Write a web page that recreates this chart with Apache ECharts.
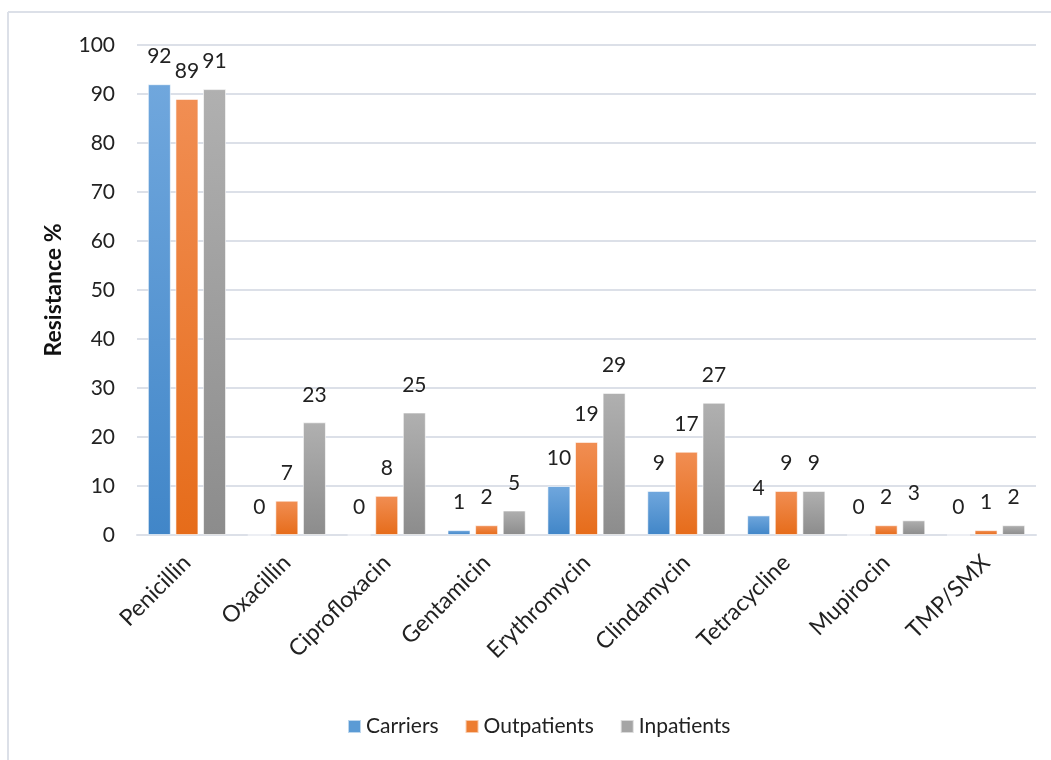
<!DOCTYPE html>
<html>
<head>
<meta charset="utf-8">
<script src="https://cdn.jsdelivr.net/npm/echarts@6/dist/echarts.min.js"></script>
<style>
  html, body { margin: 0; padding: 0; background: #ffffff; }
  #chart { width: 1051px; height: 760px; }
</style>
</head>
<body>
<div id="chart"></div>
<script>
// Antibiotic resistance (%) by patient group
const antibiotics = ['Penicillin', 'Oxacillin', 'Ciprofloxacin', 'Gentamicin', 'Erythromycin',
                     'Clindamycin', 'Tetracycline', 'Mupirocin', 'TMP/SMX'];
const carriers    = [92, 0, 0, 1, 10, 9, 4, 0, 0];
const outpatients = [89, 7, 8, 2, 19, 17, 9, 2, 1];
const inpatients  = [91, 23, 25, 5, 29, 27, 9, 3, 2];
const yTicks = [0, 10, 20, 30, 40, 50, 60, 70, 80, 90, 100];

const FONT = 'Lato, "Open Sans", sans-serif';
const GRID_COLOR = '#dce0e8';

function grad(top, bottom) {
  return new echarts.graphic.LinearGradient(0, 0, 0, 1, [
    { offset: 0, color: top },
    { offset: 1, color: bottom }
  ]);
}

function barSeries(name, data, top, bottom) {
  return {
    name: name,
    type: 'bar',
    data: data,
    barWidth: 23,
    barGap: '20%',
    itemStyle: {
      color: grad(top, bottom),
      borderColor: 'rgba(255,255,255,0.6)',
      borderWidth: 1
    },
    label: {
      show: true,
      position: 'top',
      distance: 17,
      fontFamily: FONT,
      fontSize: 21,
      color: '#222222'
    },
    emphasis: { disabled: true }
  };
}

const chart = echarts.init(document.getElementById('chart'), null, { renderer: 'canvas' });

chart.setOption({
  animation: false,
  backgroundColor: '#ffffff',
  color: ['#5b9bd5', '#ed7d31', '#a5a5a5'],
  graphic: [
    // chart-area frame (left and top edges)
    { type: 'line', shape: { x1: 8, y1: 12, x2: 1051, y2: 12 },
      style: { stroke: GRID_COLOR, lineWidth: 2 } },
    { type: 'line', shape: { x1: 8, y1: 12, x2: 8, y2: 760 },
      style: { stroke: GRID_COLOR, lineWidth: 2 } }
  ],
  grid: { left: 137, right: 15, top: 45, bottom: 225, containLabel: false },
  legend: {
    left: 342,
    top: 711,
    itemWidth: 13,
    itemHeight: 13,
    itemGap: 26,
    icon: 'rect',
    textStyle: { fontFamily: FONT, fontSize: 21, color: '#222222' },
    data: [
      { name: 'Carriers', itemStyle: { color: '#5b9bd5' } },
      { name: 'Outpatients', itemStyle: { color: '#ed7d31' } },
      { name: 'Inpatients', itemStyle: { color: '#a5a5a5' } }
    ]
  },
  xAxis: {
    type: 'category',
    data: antibiotics,
    axisLine: { show: true, lineStyle: { color: GRID_COLOR, width: 2 } },
    axisTick: { show: false },
    axisLabel: {
      rotate: 45,
      margin: 24,
      fontFamily: FONT,
      fontSize: 23,
      color: '#222222',
      interval: 0
    }
  },
  yAxis: {
    type: 'value',
    min: yTicks[0],
    max: yTicks[yTicks.length - 1],
    interval: 10,
    name: 'Resistance %',
    nameLocation: 'middle',
    nameGap: 72,
    nameRotate: 90,
    nameTextStyle: { fontFamily: FONT, fontSize: 23, fontWeight: 'bold', color: '#111111' },
    axisLine: { show: false },
    axisTick: { show: false },
    axisLabel: { margin: 22, fontFamily: FONT, fontSize: 21, color: '#222222' },
    splitLine: { show: true, lineStyle: { color: GRID_COLOR, width: 2 } }
  },
  series: [
    barSeries('Carriers', carriers, '#70a7dd', '#4186c8'),
    barSeries('Outpatients', outpatients, '#f18e53', '#e66c1a'),
    barSeries('Inpatients', inpatients, '#b0b0b0', '#8c8c8c')
  ]
});
</script>
</body>
</html>
